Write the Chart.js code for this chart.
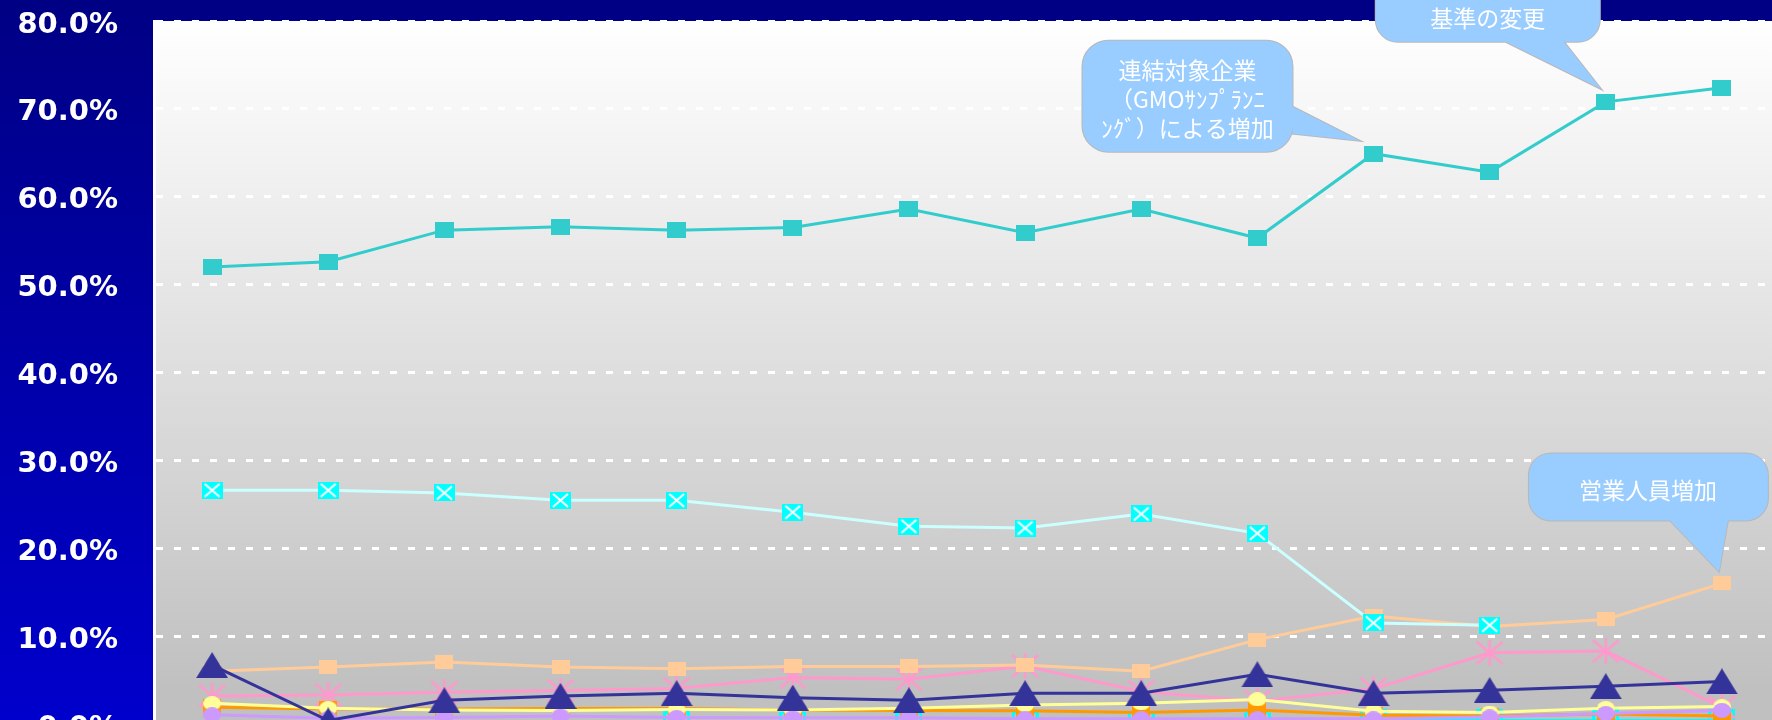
<!DOCTYPE html>
<html><head><meta charset="utf-8">
<script src="https://cdn.jsdelivr.net/npm/chart.js@4/dist/chart.umd.min.js"></script>
<style>
html,body{margin:0;padding:0;overflow:hidden;background:#000080;width:1772px;height:720px}
#wrap{position:absolute;left:0;top:0;width:1780px;height:740px}
</style></head><body>
<div id="wrap"><canvas id="c" width="1780" height="740"></canvas></div>
<script>
// ---- data ----
const categories = ['1','2','3','4','5','6','7','8','9','10','11','12','13','14'];
const yTicks = [0, 10, 20, 30, 40, 50, 60, 70, 80];
const tealValues     = [52.0, 52.6, 56.2, 56.6, 56.2, 56.5, 58.6, 55.9, 58.6, 55.3, 64.9, 62.8, 70.8, 72.4];
const cyanXValues    = [26.6, 26.6, 26.3, 25.45, 25.45, 24.1, 22.5, 22.3, 23.9, 21.7, 11.5, 11.25, null, null];
const peachValues    = [6.0, 6.5, 7.05, 6.5, 6.3, 6.55, 6.55, 6.7, 6.0, 9.6, 12.3, 11.1, 11.9, 16.0];
const pinkValues     = [3.2, 3.3, 3.6, 3.8, 4.05, 5.3, 5.1, 6.6, 3.7, 2.6, 4.0, 8.1, 8.3, 1.9];
const navyValues     = [6.7, 0.4, 2.7, 3.2, 3.5, 3.0, 2.7, 3.5, 3.5, 5.65, 3.5, 3.85, 4.3, 4.85];
const yellowValues   = [2.35, 1.8, 1.6, 1.55, 1.65, 1.6, 1.8, 2.15, 2.35, 2.8, 1.45, 1.3, 1.8, 2.0];
const orangeValues   = [1.9, 1.7, 1.7, 1.75, 1.75, 1.6, 1.55, 1.5, 1.3, 1.6, 1.0, 0.9, 1.15, 0.9];
const lavenderValues = [1.05, 0.65, 0.75, 0.9, 0.75, 0.7, 0.7, 0.6, 0.6, 0.6, 0.6, 0.8, 1.2, 1.55];
const cyanOpenValues = [null, null, null, null, 0.25, 0.25, 0.2, 0.25, 0.25, 0.25, 0.45, 0.45, 0.45, 0.45];

const calloutTexts = {
  kijun: ['基準の変更'],
  renketsu: ['連結対象企業', '（GMOｻﾝﾌﾟﾗﾝﾆ', 'ﾝｸﾞ）による増加'],
  eigyo: ['営業人員増加']
};

// ---- marker images ----
function mk(w, h, draw) {
  const c = document.createElement('canvas');
  c.width = w; c.height = h;
  draw(c.getContext('2d'), w, h);
  return c;
}
const mTeal = mk(19, 16, (g, w, h) => { g.fillStyle = '#33CCCC'; g.fillRect(0, 0, w, h); });
const mPeach = mk(18, 14, (g, w, h) => { g.fillStyle = '#FFCC99'; g.fillRect(0, 0, w, h); });
const mCyanX = mk(21, 17, (g, w, h) => {
  g.fillStyle = '#00FFFF'; g.fillRect(0, 0, w, h);
  g.strokeStyle = '#FFFFFF'; g.lineWidth = 2;
  g.beginPath(); g.moveTo(3, 2); g.lineTo(w - 3, h - 2); g.moveTo(w - 3, 2); g.lineTo(3, h - 2); g.stroke();
});
const mNavy = mk(32, 26, (g, w, h) => {
  g.fillStyle = '#333399';
  g.beginPath(); g.moveTo(w / 2, 0); g.lineTo(w, h); g.lineTo(0, h); g.closePath(); g.fill();
});
const mPink = mk(30, 26, (g, w, h) => {
  g.strokeStyle = '#FF99CC'; g.lineWidth = 2.5;
  g.beginPath();
  g.moveTo(w / 2, 0); g.lineTo(w / 2, h);
  g.moveTo(2, 2); g.lineTo(w - 2, h - 2);
  g.moveTo(w - 2, 2); g.lineTo(2, h - 2);
  g.stroke();
});
const mYellow = mk(18, 14, (g, w, h) => {
  g.fillStyle = '#FFFF99';
  g.beginPath(); g.ellipse(w / 2, h / 2, w / 2, h / 2, 0, 0, Math.PI * 2); g.fill();
});
const mOrange = mk(18, 16, (g, w, h) => { g.fillStyle = '#FF9900'; g.fillRect(0, 0, w, h); });
const mLav = mk(18, 15, (g, w, h) => {
  g.fillStyle = '#CC99FF';
  g.beginPath(); g.ellipse(w / 2, h / 2, w / 2, h / 2, 0, 0, Math.PI * 2); g.fill();
});
const mCyanOpen = mk(27, 22, (g, w, h) => {
  g.strokeStyle = '#00FFFF'; g.lineWidth = 3; g.strokeRect(1.5, 1.5, w - 3, h - 3);
});

function ds(label, data, color, width, marker, order) {
  return {
    label, data, borderColor: color, backgroundColor: color, borderWidth: width,
    pointStyle: marker, pointRadius: 10, tension: 0, order, clip: false, spanGaps: false
  };
}

// ---- plugins ----
const bgPlugin = {
  id: 'bg',
  beforeDraw(chart) {
    const { ctx, chartArea: a, width, height } = chart;
    ctx.save();
    const g = ctx.createLinearGradient(0, 0, 0, 720);
    g.addColorStop(0, '#000084'); g.addColorStop(1, '#0000CC');
    ctx.fillStyle = g; ctx.fillRect(0, 0, width, height);
    const g2 = ctx.createLinearGradient(0, a.top, 0, 690);
    g2.addColorStop(0, '#FFFFFF'); g2.addColorStop(1, '#C0C0C0');
    ctx.fillStyle = g2; ctx.fillRect(a.left, a.top, a.right - a.left, a.bottom - a.top);
    ctx.restore();
  }
};

const callouts = [
  { texts: calloutTexts.kijun, ds: 0, idx: 12, tip: [-5, -13],
    rect: [-225, -140, 224, 93], r: 22, base: [[-95, -47], [-37, -47]], text: [-113, -71], lh: 29 },
  { texts: calloutTexts.renketsu, ds: 0, idx: 10, tip: [-14, -13],
    rect: [-277, -100, 210, 111], r: 26, base: [[-67, -34], [-67, -7]], text: [-172, -70], lh: 29 },
  { texts: calloutTexts.eigyo, ds: 2, idx: 13, tip: [-3, -12],
    rect: [-190, -118, 239, 67], r: 22, base: [[-49, -51], [9, -51]], text: [-71, -81], lh: 29 }
];

const calloutPlugin = {
  id: 'callouts',
  afterDatasetsDraw(chart) {
    const ctx = chart.ctx;
    const xs = chart.scales.x, ys = chart.scales.y;
    callouts.forEach(c => {
      const d = chart.data.datasets[c.ds].data[c.idx];
      const tx = xs.getPixelForValue(c.idx) + c.tip[0];
      const ty = ys.getPixelForValue(d) + c.tip[1];
      const [rx, ry, rw, rh] = c.rect;
      const shapes = () => {
        ctx.beginPath();
        ctx.roundRect(tx + rx, ty + ry, rw, rh, c.r);
        ctx.moveTo(tx + c.base[0][0], ty + c.base[0][1]);
        ctx.lineTo(tx, ty);
        ctx.lineTo(tx + c.base[1][0], ty + c.base[1][1]);
        ctx.closePath();
      };
      ctx.save();
      shapes();
      ctx.strokeStyle = '#B8B8B8'; ctx.lineWidth = 2; ctx.stroke();
      ctx.fillStyle = '#99CCFF'; ctx.fill();
      ctx.fillStyle = '#FFFFFF';
      ctx.font = '23px "Noto Sans CJK JP"';
      ctx.textAlign = 'center'; ctx.textBaseline = 'middle';
      c.texts.forEach((t, i) => ctx.fillText(t, tx + c.text[0], ty + c.text[1] + i * c.lh));
      ctx.restore();
    });
  }
};

new Chart(document.getElementById('c'), {
  type: 'line',
  data: {
    labels: categories,
    datasets: [
      ds('系列1', tealValues, '#33CCCC', 3, mTeal, 2),
      ds('系列2', cyanXValues, '#CCFFFF', 3, mCyanX, 3),
      ds('系列3', peachValues, '#FFCC99', 3, mPeach, 6),
      ds('系列4', pinkValues, '#FF99CC', 3, mPink, 8),
      ds('系列5', navyValues, '#333399', 3, mNavy, 1),
      ds('系列6', yellowValues, '#FFFF99', 3, mYellow, 5),
      ds('系列7', orangeValues, '#FF9900', 3, mOrange, 7),
      ds('系列8', lavenderValues, '#CC99FF', 3, mLav, 4),
      ds('系列9', cyanOpenValues, '#00FFFF', 2, mCyanOpen, 9)
    ]
  },
  options: {
    responsive: false, animation: false, devicePixelRatio: 1, events: [],
    layout: { autoPadding: false, padding: { top: 21, bottom: 16, left: 0, right: 0 } },
    plugins: { legend: { display: false }, tooltip: { enabled: false } },
    scales: {
      x: { type: 'category', display: false, offset: true },
      y: {
        min: 0, max: 80,
        afterFit(s) { s.width = 154; s.paddingTop = 0; s.paddingBottom = 0; },
        afterBuildTicks(s) { s.ticks = yTicks.map(v => ({ value: v })); },
        ticks: {
          color: '#FFFFFF', padding: 36, labelOffset: 4,
          font: { family: 'DejaVu Sans', size: 29, weight: 'bold' },
          callback: v => v.toFixed(1) + '%'
        },
        grid: { color: '#FFFFFF', lineWidth: 3, drawTicks: false },
        border: { display: true, color: '#FFFFFF', width: 3, dash: [7, 11] }
      }
    }
  },
  plugins: [bgPlugin, calloutPlugin]
});
</script>
</body></html>
